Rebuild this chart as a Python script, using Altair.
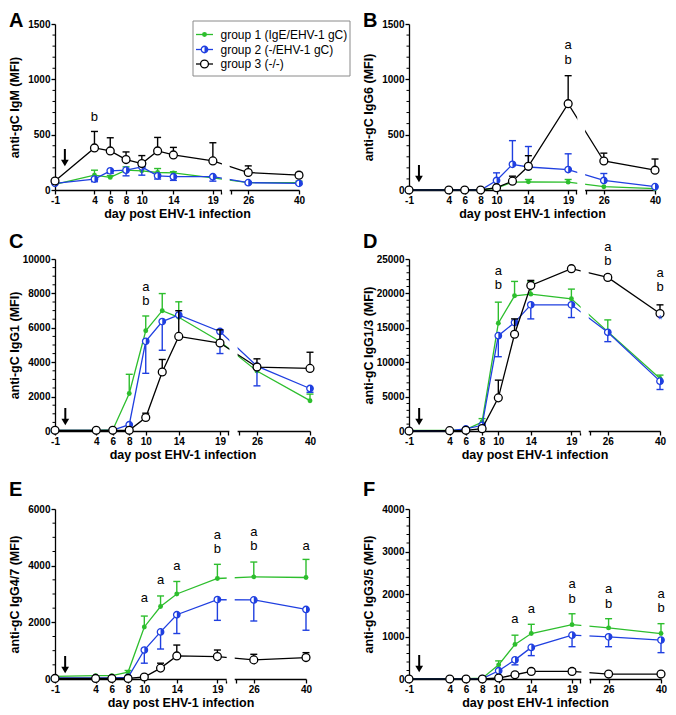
import altair as alt
import pandas as pd

# ---------------- data ----------------
DAYS = [-1, 4, 6, 8, 10, 12, 14, 19, 26, 40]
TICK_DAYS = [-1, 4, 6, 8, 10, 14, 19, 26, 40]
BREAK_DAYS = [20.5, 22.5]
ARROW_DAY = [0.25]
X_TITLE = "day post EHV-1 infection"
LEGEND_LABELS = ["group 1 (IgE/EHV-1 gC)", "group 2 (-/EHV-1 gC)", "group 3 (-/-)"]

# A: IgM
A_G1 = [50, 134, 114, 179, 173, 158, 155, 110, 66, 66]
A_G1_ERR = [50, 179, 130, 209, 209, 194, 165, 125, 75, 80]
A_G2 = [60, 99, 173, 179, 209, 128, 120, 120, 66, 60]
A_G2_ERR = [60, 75, 150, 128, 134, 99, 87, 80, 55, 50]
A_G3 = [81, 380, 353, 275, 239, 353, 317, 263, 158, 134]
A_G3_ERR = [81, 529, 472, 344, 311, 475, 385, 427, 218, 158]
ANN_A = [("b", 4, 663)]

# B: IgG6
B_G1 = [0, 0, 0, 0, 18, 71, 74, 71, 30, 12]
B_G1_ERR = [0, 0, 0, 0, 18, 95, 95, 95, 30, 12]
B_G2 = [0, 0, 0, 0, 86, 232, 208, 185, 86, 30]
B_G2_ERR = [0, 0, 0, 0, 155, 446, 393, 327, 149, 30]
B_G3 = [0, 0, 0, 0, 21, 80, 214, 780, 262, 179]
B_G3_ERR = [0, 0, 0, 0, 21, 125, 310, 1033, 333, 280]
ANN_B = [("a", 19, 1306), ("b", 19, 1173)]

# C: IgG1
C_G1 = [40, 40, 60, 2184, 5825, 6994, 6610, 5200, 3487, 1763]
C_G1_ERR = [40, 40, 60, 3296, 6687, 7990, 7511, 5200, 3487, 2146]
C_G2 = [40, 40, 50, 364, 5211, 6361, 6744, 5786, 3774, 2472]
C_G2_ERR = [40, 40, 50, 364, 3353, 4694, 6744, 4503, 2625, 2250]
C_G3 = [40, 40, 40, 40, 785, 3430, 5500, 5115, 3717, 3640]
C_G3_ERR = [40, 40, 40, 40, 1035, 4158, 6994, 5882, 4196, 4579]
ANN_C = [("a", 10, 8373), ("b", 10, 7568)]

# D: IgG1/3
D_G1 = [100, 100, 200, 1313, 15662, 19650, 19894, 19213, 14446, 7636]
D_G1_ERR = [100, 100, 200, 1800, 18726, 21742, 21742, 20623, 16148, 8123]
D_G2 = [50, 50, 300, 827, 13862, 15760, 18337, 18337, 14349, 7247]
D_G2_ERR = [50, 50, 300, 827, 10798, 15760, 16294, 16489, 12987, 6031]
D_G3 = [0, 50, 100, 340, 4815, 14057, 21158, 23590, 22326, 17073]
D_G3_ERR = [0, 50, 100, 340, 7393, 16294, 21888, 23590, 22715, 18337]
ANN_D = [("a", 10, 23300), ("b", 10, 21256), ("a", 26, 26703), ("b", 26, 24660),
         ("a", 40, 22958), ("b", 40, 20867)]
STAR_D = [("*", 40, 16148)]

# E: IgG4/7
E_G1 = [93, 116, 116, 244, 1837, 2558, 3000, 3547, 3605, 3582]
E_G1_ERR = [93, 116, 116, 300, 2221, 2931, 3442, 4047, 4128, 4221]
E_G2 = [35, 35, 35, 58, 1023, 1663, 2268, 2803, 2791, 2454]
E_G2_ERR = [35, 35, 35, 58, 558, 1058, 1605, 2070, 2047, 1721]
E_G3 = [20, 20, 20, 20, 70, 384, 814, 791, 675, 756]
E_G3_ERR = [20, 20, 20, 20, 70, 558, 1198, 1023, 872, 930]
ANN_E = [("a", 10, 2849), ("a", 12, 3489), ("a", 14, 3989), ("a", 19, 5094), ("b", 19, 4594),
         ("a", 26, 5175), ("b", 26, 4687), ("a", 40, 4687)]

# F: IgG3/5
F_G1 = [10, 10, 10, 20, 333, 814, 1070, 1279, 1202, 1070]
F_G1_ERR = [10, 10, 10, 20, 426, 1031, 1287, 1535, 1419, 1302]
F_G2 = [5, 5, 5, 10, 194, 450, 744, 1031, 992, 915]
F_G2_ERR = [5, 5, 5, 10, 194, 333, 550, 760, 760, 620]
F_G3 = [0, 0, 0, 0, 23, 100, 178, 178, 116, 116]
F_G3_ERR = [0, 0, 0, 0, 23, 100, 233, 240, 116, 116]
ANN_F = [("a", 12, 1419), ("a", 14, 1651), ("a", 19, 2233), ("b", 19, 1884),
         ("a", 26, 2116), ("b", 26, 1767), ("a", 40, 2000), ("b", 40, 1667)]

# ---------------- style ----------------
GREEN = "#2DBE2D"
BLUE = "#1F3FE0"
BLACK = "#000000"
FONT = "Liberation Sans"
F19, FB1, FB2, F26 = 0.647, 0.68, 0.72, 0.792
HALF = "M0,-1A1,1,0,0,1,0,1Z"


def panel(letter, ytitle, ymax, ystep, minor, W, H, letter_y, tip, series, ann,
          star=None, legend=False):
    xs = alt.Scale(domain=[-1, 19, BREAK_DAYS[0], BREAK_DAYS[1], 26, 40],
                   range=[0, F19 * W, FB1 * W, FB2 * W, F26 * W, W], nice=False, zero=False)
    ys = alt.Scale(domain=[0, ymax], nice=False, zero=True)
    xaxis = alt.Axis(values=TICK_DAYS + BREAK_DAYS, title=X_TITLE,
                     labelExpr="(datum.value == 20.5 || datum.value == 22.5) ? '' : '' + datum.value",
                     labelFont=FONT, labelFontSize=10, labelFontWeight="bold", labelColor="black",
                     labelPadding=1, labelOverlap=False, labelFlush=False,
                     tickSize=4, tickColor="black", tickWidth=1.3,
                     domainColor="black", domainWidth=1.3, grid=False,
                     titleFont=FONT, titleFontSize=12.5, titleFontWeight="bold",
                     titleColor="black", titlePadding=2, zindex=0)
    yaxis = alt.Axis(values=list(range(0, ymax + 1, ystep)), title=ytitle, format="d",
                     labelFont=FONT, labelFontSize=10, labelFontWeight="bold", labelColor="black",
                     labelPadding=1, tickSize=4, tickColor="black", tickWidth=1.3,
                     domainColor="black", domainWidth=1.3, grid=False,
                     minExtent=33, maxExtent=33,
                     titleFont=FONT, titleFontSize=12.5, titleFontWeight="bold",
                     titleColor="black", titlePadding=1, zindex=0)

    def X(f):
        return alt.X(f, type="quantitative", scale=xs, axis=xaxis)

    def Y(f):
        return alt.Y(f, type="quantitative", scale=ys, axis=yaxis)

    layers = []
    # minor ticks on y axis
    mdf = pd.DataFrame({"v": [v for v in range(0, ymax + 1, minor) if v % ystep != 0]})
    layers.append(alt.Chart(mdf).mark_rule(color="black", strokeWidth=1).encode(
        y=Y("v"), x=alt.value(0), x2=alt.value(-2.5)))

    for gi, (vals, errs) in enumerate(series):
        color = [GREEN, BLUE, BLACK][gi]
        df = pd.DataFrame({"day": DAYS, "mean": vals, "err": errs})
        base = alt.Chart(df)
        layers.append(base.mark_line(color=color, strokeWidth=1.3).encode(x=X("day"), y=Y("mean")))
        eb = base.transform_filter("datum.err != datum.mean")
        layers.append(eb.mark_rule(color=color, strokeWidth=1.4).encode(
            x=X("day"), y=Y("mean"), y2=alt.Y2("err")))
        layers.append(eb.mark_rule(color=color, strokeWidth=1.4, xOffset=-3.5, x2Offset=3.5).encode(
            x=X("day"), x2=alt.X2("day"), y=Y("err")))
        if gi == 0:
            layers.append(base.mark_point(shape="circle", filled=True, color=GREEN, size=24,
                                          opacity=1).encode(x=X("day"), y=Y("mean")))
        elif gi == 1:
            layers.append(base.mark_point(shape="circle", filled=True, fill="white", stroke=BLUE,
                                          strokeWidth=1.3, size=42, opacity=1).encode(x=X("day"), y=Y("mean")))
            layers.append(base.mark_point(shape=HALF, filled=True, fill=BLUE, strokeWidth=0,
                                          size=42, opacity=1).encode(x=X("day"), y=Y("mean")))
        else:
            layers.append(base.mark_point(shape="circle", filled=True, fill="white", stroke=BLACK,
                                          strokeWidth=1.3, size=62, opacity=1).encode(x=X("day"), y=Y("mean")))

    # axis break
    bdf = pd.DataFrame({"b1": [BREAK_DAYS[0]], "b2": [BREAK_DAYS[1]]})
    layers.append(alt.Chart(bdf).mark_rect(color="white", xOffset=1, x2Offset=-1).encode(
        x=X("b1"), x2=alt.X2("b2"), y=alt.value(-2), y2=alt.value(H + 2.5)))

    # significance letters
    adf = pd.DataFrame(ann, columns=["t", "day", "v"])
    layers.append(alt.Chart(adf).mark_text(font=FONT, fontSize=13, color="black",
                                           baseline="middle").encode(x=X("day"), y=Y("v"), text="t"))
    if star:
        sdf = pd.DataFrame(star, columns=["t", "day", "v"])
        layers.append(alt.Chart(sdf).mark_text(font=FONT, fontSize=12, color=BLUE,
                                               baseline="middle").encode(x=X("day"), y=Y("v"), text="t"))

    # infection arrow
    ardf = pd.DataFrame({"day": ARROW_DAY})
    layers.append(alt.Chart(ardf).mark_rule(color="black", strokeWidth=2).encode(
        x=X("day"), y=alt.value(H - tip - 18), y2=alt.value(H - tip - 6)))
    layers.append(alt.Chart(ardf).mark_point(shape="triangle-down", filled=True, color="black",
                                             size=60, opacity=1).encode(
        x=X("day"), y=alt.value(H - tip - 4)))

    # panel letter
    ldf = pd.DataFrame({"letter": [letter]})
    layers.append(alt.Chart(ldf).mark_text(font=FONT, fontSize=20, fontWeight="bold", align="left",
                                           baseline="top", color="black").encode(
        x=alt.value(-46), y=alt.value(letter_y), text="letter"))

    if legend:
        one = pd.DataFrame({"k": [0]})
        layers.append(alt.Chart(one).mark_rect(fill="white", stroke="#8a8a8a", strokeWidth=1).encode(
            x=alt.value(138), x2=alt.value(295), y=alt.value(-3), y2=alt.value(52)))
        rows_y = [10.5, 25.5, 40]
        for i, lab in enumerate(LEGEND_LABELS):
            color = [GREEN, BLUE, BLACK][i]
            yy = rows_y[i]
            layers.append(alt.Chart(one).mark_rule(color=color, strokeWidth=1.3).encode(
                x=alt.value(141), x2=alt.value(158), y=alt.value(yy)))
            if i == 0:
                layers.append(alt.Chart(one).mark_point(shape="circle", filled=True, color=GREEN,
                                                        size=24, opacity=1).encode(
                    x=alt.value(149.5), y=alt.value(yy)))
            elif i == 1:
                layers.append(alt.Chart(one).mark_point(shape="circle", filled=True, fill="white",
                                                        stroke=BLUE, strokeWidth=1.3, size=42,
                                                        opacity=1).encode(
                    x=alt.value(149.5), y=alt.value(yy)))
                layers.append(alt.Chart(one).mark_point(shape=HALF, filled=True, fill=BLUE,
                                                        strokeWidth=0, size=42, opacity=1).encode(
                    x=alt.value(149.5), y=alt.value(yy)))
            else:
                layers.append(alt.Chart(one).mark_point(shape="circle", filled=True, fill="white",
                                                        stroke=BLACK, strokeWidth=1.3, size=62,
                                                        opacity=1).encode(
                    x=alt.value(149.5), y=alt.value(yy)))
            lt = pd.DataFrame({"label": [lab]})
            layers.append(alt.Chart(lt).mark_text(font=FONT, fontSize=12, color="black",
                                                  align="left", baseline="middle").encode(
                x=alt.value(165.5), y=alt.value(yy), text="label"))

    return alt.layer(*layers).properties(width=W, height=H)


pA = panel("A", "anti-gC IgM (MFI)", 1500, 500, 100, 244, 166, -13, 23,
           [(A_G1, A_G1_ERR), (A_G2, A_G2_ERR), (A_G3, A_G3_ERR)], ANN_A, legend=True)
pB = panel("B", "anti-gC IgG6 (MFI)", 1500, 500, 100, 246, 166, -13, 7,
           [(B_G1, B_G1_ERR), (B_G2, B_G2_ERR), (B_G3, B_G3_ERR)], ANN_B)
pC = panel("C", "anti-gC IgG1 (MFI)", 10000, 2000, 500, 255, 172, -27, 5,
           [(C_G1, C_G1_ERR), (C_G2, C_G2_ERR), (C_G3, C_G3_ERR)], ANN_C)
pD = panel("D", "anti-gC IgG1/3 (MFI)", 25000, 5000, 1000, 251, 172, -27, 5,
           [(D_G1, D_G1_ERR), (D_G2, D_G2_ERR), (D_G3, D_G3_ERR)], ANN_D, star=STAR_D)
pE = panel("E", "anti-gC IgG4/7 (MFI)", 6000, 2000, 500, 251, 170, -29, 5,
           [(E_G1, E_G1_ERR), (E_G2, E_G2_ERR), (E_G3, E_G3_ERR)], ANN_E)
pF = panel("F", "anti-gC IgG3/5 (MFI)", 4000, 1000, 200, 252, 170, -29, 6,
           [(F_G1, F_G1_ERR), (F_G2, F_G2_ERR), (F_G3, F_G3_ERR)], ANN_F)

row1 = alt.hconcat(pA, pB, spacing=11)
row2 = alt.hconcat(pC, pD, spacing=45)
row3 = alt.hconcat(pE, pF, spacing=49)

top_rows = alt.vconcat(row1, row2, spacing=12)
chart = alt.vconcat(top_rows, row3, spacing=19).properties(
    padding={"left": 0, "top": 3, "right": 0, "bottom": 0}, background="white"
).configure_view(stroke=None)

chart.save("out.html", embed_options={"renderer": "svg", "actions": False})
